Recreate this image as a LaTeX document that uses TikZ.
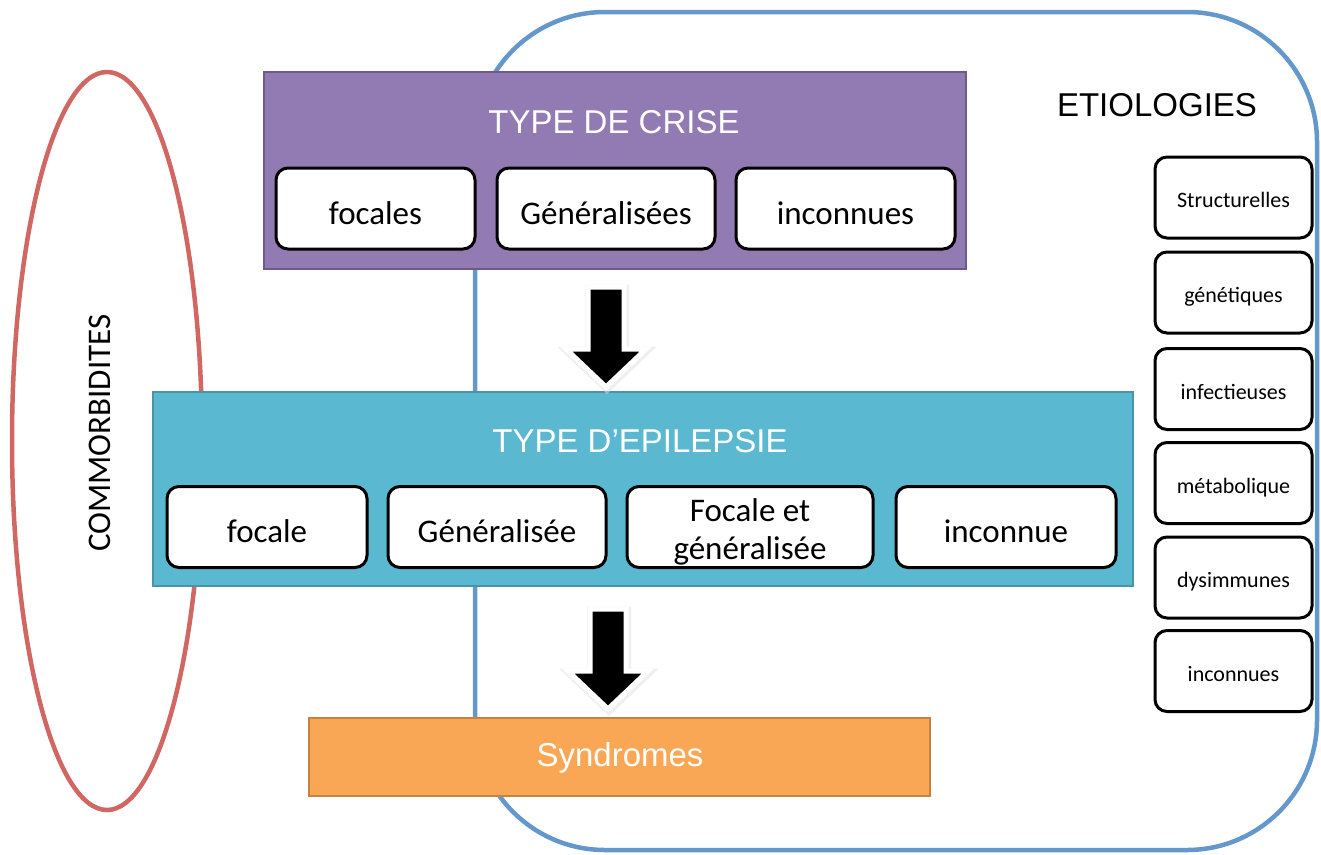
\documentclass[tikz,border=0pt]{standalone}
\usepackage{fontspec}
\setmainfont{Liberation Sans}
\newfontfamily\calfont{Carlito}
\usetikzlibrary{shapes.geometric}
\definecolor{crisefill}{HTML}{927AB2}
\definecolor{crisedraw}{HTML}{6D5A8A}
\definecolor{epifill}{HTML}{5BB8D1}
\definecolor{epidraw}{HTML}{4A94AA}
\definecolor{synfill}{HTML}{FAA755}
\definecolor{syndraw}{HTML}{C9813E}
\definecolor{comred}{HTML}{D06762}
\definecolor{etioblue}{HTML}{6497CB}
\begin{document}
\begin{tikzpicture}[x=1pt,y=-1pt,
  inbox/.style={draw=black, line width=3pt, fill=white, rounded corners=12pt,
    minimum width=#1, minimum height=81pt, inner sep=0pt, align=center,
    text height=31pt, text depth=0pt,
    font=\calfont\fontsize{33}{35}\selectfont},
  etiobox/.style={draw=black, line width=3pt, fill=white, rounded corners=12pt,
    minimum width=157pt, minimum height=81pt, inner sep=0pt,
    text height=20pt, text depth=0pt,
    font=\calfont\fontsize{22}{24}\selectfont},
  bigbox/.style={line width=2pt, inner sep=0pt, minimum width=#1},
  title/.style={text=white, inner sep=0pt, anchor=base, font=\fontsize{33}{36}\selectfont},
  blockarrow/.style={fill=black, draw=white, line width=5pt, line join=miter},
  arrowshadow/.style={draw=black!12, line width=8pt, opacity=0.5, line join=miter}
]
\useasboundingbox (0,0) rectangle (1321,854);
% etiologies field
\node[draw=etioblue, line width=4.5pt, rounded corners=130pt, minimum width=842pt,
  minimum height=838pt, inner sep=0pt] (etio) at (896,431) {};
% commorbidites
\node[ellipse, draw=comred, line width=4.5pt, minimum width=190pt, minimum height=738pt,
  inner sep=0pt] (comm) at (107,441) {};
\node[rotate=90, inner sep=0pt, font=\calfont\fontsize{33}{36}\selectfont] (commtxt) at (100,433) {COMMORBIDITES};
\node[inner sep=0pt, anchor=base, font=\fontsize{33}{36}\selectfont] (etiotxt) at (1157,116) {ETIOLOGIES};
% type de crise
\node[bigbox=702pt, fill=crisefill, draw=crisedraw, minimum height=197pt] (crise) at (615,170.5) {};
\node[title] (crisetxt) at (614,133) {TYPE DE CRISE};
\node[inbox=199pt] (c1) at (375.5,208.5) {focales};
\node[inbox=218pt] (c2) at (606,208.5) {Généralisées};
\node[inbox=219pt] (c3) at (845.5,208.5) {inconnues};
% type d'epilepsie
\node[bigbox=980pt, fill=epifill, draw=epidraw, minimum height=194pt] (epi) at (643,489) {};
\node[title] (epitxt) at (640,452) {TYPE D’EPILEPSIE};
\node[inbox=200pt] (e1) at (267,527) {focale};
\node[inbox=218pt] (e2) at (497,527) {Généralisée};
\node[inbox=246pt, text height=, text depth=] (e3) at (750,527) {};
\node[align=center, inner sep=0pt, font=\calfont\fontsize{33}{38}\selectfont]
  (e3txt) at ([yshift=-4.5pt]e3.center) {Focale et\\généralisée};
\node[inbox=220pt] (e4) at (1006,527) {inconnue};
% syndromes
\node[bigbox=621pt, fill=synfill, draw=syndraw, minimum height=78pt] (syn) at (619.5,757) {};
\node[title] (syntxt) at (620,766) {Syndromes};
% etiology boxes
\node[etiobox] (s1) at (1233.5,197.5) {Structurelles};
\node[etiobox] (s2) at (1233.5,292.5) {génétiques};
\node[etiobox] (s3) at (1233.5,389) {infectieuses};
\node[etiobox] (s4) at (1233.5,483) {métabolique};
\node[etiobox] (s5) at (1233.5,577.5) {dysimmunes};
\node[etiobox] (s6) at (1233.5,671) {inconnues};
% block arrows
\foreach \cx/\ty in {606/287, 608/609} {
  \draw[arrowshadow, shift={(1,1.5)}] (\cx-18,\ty) -- (\cx+18,\ty) -- (\cx+18,\ty+62) -- (\cx+40,\ty+62)
    -- (\cx,\ty+100) -- (\cx-40,\ty+62) -- (\cx-18,\ty+62) -- cycle;
  \draw[blockarrow] (\cx-18,\ty) -- (\cx+18,\ty) -- (\cx+18,\ty+62) -- (\cx+40,\ty+62)
    -- (\cx,\ty+100) -- (\cx-40,\ty+62) -- (\cx-18,\ty+62) -- cycle;
}
\end{tikzpicture}
\end{document}
